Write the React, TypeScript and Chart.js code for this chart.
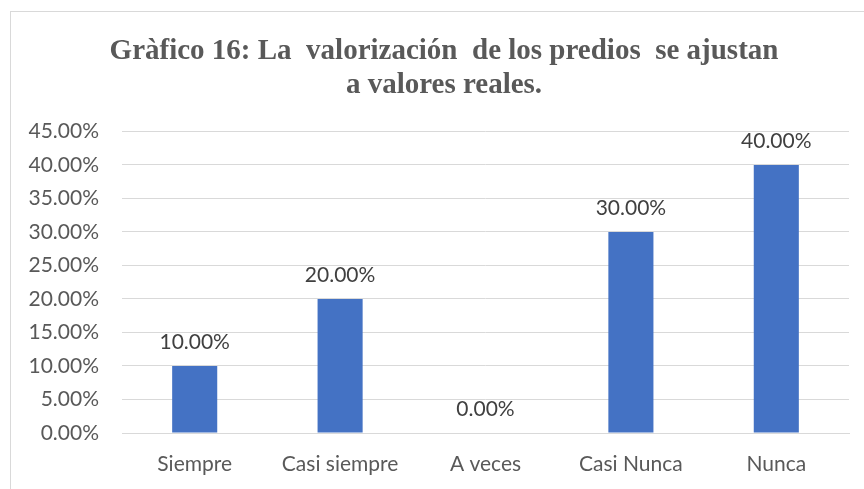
import React, { useEffect, useRef } from "react";
import { Chart, registerables } from "chart.js";

Chart.register(...registerables);

const categories = ["Siempre", "Casi siempre", "A veces", "Casi Nunca", "Nunca"];
const percentValues = [10, 20, 0, 30, 40];
const titleLines = ["Gràfico 16: La  valorización  de los predios  se ajustan", "a valores reales."];
const yMax = 45;
const yStep = 5;

const fmt = (v: number) => v.toFixed(2) + "%";

const frame = {
  id: "frame",
  beforeDraw(chart: any) {
    const ctx = chart.ctx;
    ctx.save();
    ctx.fillStyle = "#ffffff";
    ctx.fillRect(0, 0, chart.width, chart.height);
    ctx.strokeStyle = "#d9d9d9";
    ctx.lineWidth = 1;
    ctx.strokeRect(10.5, 11.5, chart.width + 20, chart.height + 20);
    ctx.restore();
  },
};

const titleShift = {
  id: "titleShift",
  afterLayout(chart: any) {
    const t = chart.titleBlock;
    if (t) {
      t.left = 39;
      t.right = 849;
      t.width = t.right - t.left;
    }
  },
};

const valueLabels = {
  id: "valueLabels",
  afterDatasetsDraw(chart: any) {
    const ctx = chart.ctx;
    const meta = chart.getDatasetMeta(0);
    ctx.save();
    ctx.font = "21px Lato";
    ctx.fillStyle = "#404040";
    ctx.textAlign = "center";
    ctx.textBaseline = "alphabetic";
    meta.data.forEach((bar: any, i: number) => {
      ctx.fillText(fmt(percentValues[i]), bar.x, bar.y - 17);
    });
    ctx.restore();
  },
};

export default function App() {
  const ref = useRef<HTMLCanvasElement>(null);
  useEffect(() => {
    document.body.style.margin = "0";
    const chart = new Chart(ref.current!, {
      type: "bar",
      data: {
        labels: categories,
        datasets: [
          {
            data: percentValues,
            backgroundColor: "#4472C4",
            barPercentage: 0.31,
            categoryPercentage: 1,
          },
        ],
      },
      options: {
        responsive: false,
        animation: false,
        layout: { padding: { left: 0, right: 15, top: 0, bottom: 13 } },
        plugins: {
          legend: { display: false },
          tooltip: { enabled: false },
          title: {
            display: true,
            text: titleLines,
            color: "#595959",
            font: { family: "Liberation Serif", size: 29, weight: "bold", lineHeight: 1.18 },
            padding: { top: 34, bottom: 29 },
          },
        },
        scales: {
          x: {
            afterFit(scale: any) {
              scale.height = 43;
            },
            grid: { display: false, drawTicks: false },
            border: { display: true, color: "#d9d9d9" },
            ticks: { color: "#595959", font: { family: "Lato", size: 21 }, padding: 19, maxRotation: 0 },
          },
          y: {
            min: 0,
            max: yMax,
            afterFit(scale: any) {
              scale.width = 122;
            },
            grid: { color: "#d9d9d9", drawTicks: false },
            border: { display: false },
            ticks: {
              stepSize: yStep,
              color: "#595959",
              font: { family: "Lato", size: 21 },
              padding: 23,
              callback: (v: any) => fmt(Number(v)),
            },
          },
        },
      },
      plugins: [frame, titleShift, valueLabels],
    });
    return () => chart.destroy();
  }, []);
  return <canvas ref={ref} width={864} height={489} style={{ display: "block" }} />;
}
